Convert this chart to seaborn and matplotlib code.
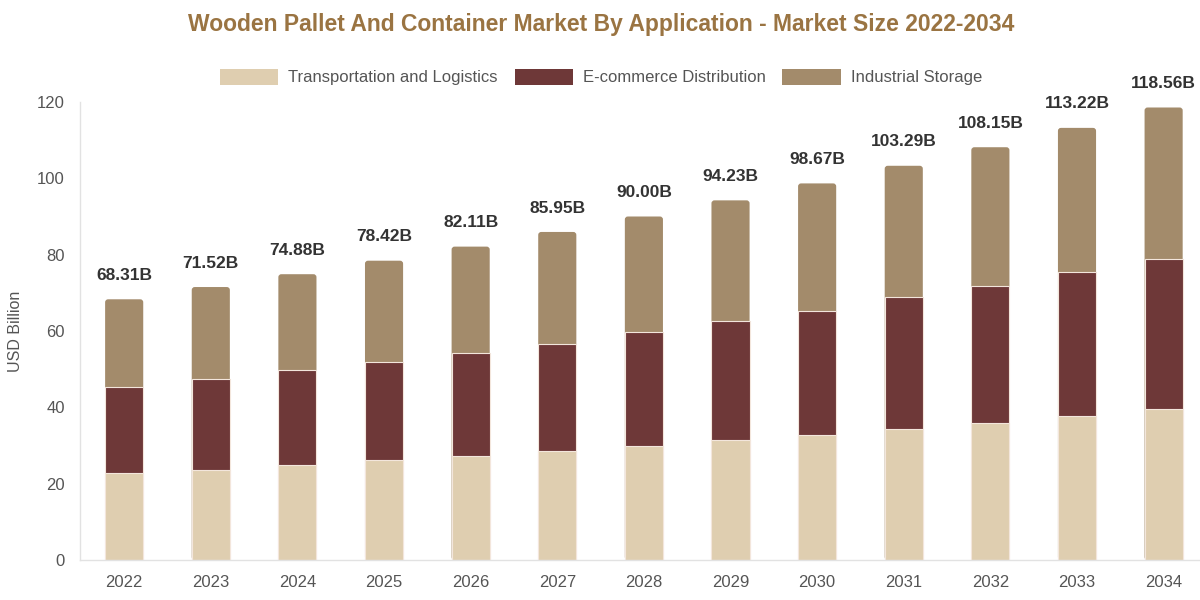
import matplotlib
matplotlib.use("Agg")
import matplotlib.pyplot as plt
import seaborn as sns
import numpy as np
import pandas as pd
from matplotlib.patches import Patch, FancyBboxPatch

years = ["2022", "2023", "2024", "2025", "2026", "2027", "2028", "2029", "2030", "2031", "2032", "2033", "2034"]
transport = [22.7, 23.7, 24.9, 26.2, 27.2, 28.6, 29.9, 31.4, 32.7, 34.3, 36.0, 37.7, 39.5]
ecommerce = [22.7, 23.6, 24.8, 25.6, 27.1, 28.1, 29.9, 31.2, 32.6, 34.5, 35.8, 37.7, 39.4]
totals = [68.31, 71.52, 74.88, 78.42, 82.11, 85.95, 90.00, 94.23, 98.67, 103.29, 108.15, 113.22, 118.56]
industrial = [round(t - a - b, 2) for t, a, b in zip(totals, transport, ecommerce)]
total_labels = ["68.31B", "71.52B", "74.88B", "78.42B", "82.11B", "85.95B", "90.00B", "94.23B",
                "98.67B", "103.29B", "108.15B", "113.22B", "118.56B"]
series_names = ["Transportation and Logistics", "E-commerce Distribution", "Industrial Storage"]
colors = ["#DFCEB0", "#6E3838", "#A38B6B"]

sns.set_theme(style="white")
plt.rcParams["font.family"] = ["Liberation Sans", "DejaVu Sans"]

fig = plt.figure(figsize=(12, 6), dpi=100)
ax = fig.add_axes([80 / 1200, 40 / 600, 1 - 80 / 1200, (560 - 102) / 600])

df = pd.DataFrame({"year": years, "t": transport, "e": ecommerce, "i": industrial})
df["te"] = df["t"] + df["e"]
df["tei"] = df["te"] + df["i"]

w = 0.44
sns.barplot(data=df, x="year", y="tei", color=colors[2], width=w, saturation=1,
            linewidth=0, ax=ax)
n_top = len(ax.patches)
sns.barplot(data=df, x="year", y="te", color=colors[1], width=w, saturation=1,
            edgecolor="#F3E6DC", linewidth=0.8, ax=ax)
sns.barplot(data=df, x="year", y="t", color=colors[0], width=w, saturation=1,
            edgecolor="#F3E6DC", linewidth=0.8, ax=ax)

ax.set_xlim(-0.51, 12.42)
ax.set_ylim(0, 120)

all_patches = list(ax.patches)
top_patches = all_patches[:n_top]
lower_patches = all_patches[n_top:]
for k, p in enumerate(lower_patches):
    p.set_zorder(3 + (k // n_top) * 0.1)

# round the top corners of the top segment
r = 0.035
for p in top_patches:
    x0, y0 = p.get_x(), p.get_y()
    pw, ph = p.get_width(), p.get_height()
    p.set_visible(False)
    fb = FancyBboxPatch((x0, y0), pw, ph, boxstyle=f"round,pad=0,rounding_size={r}",
                        mutation_aspect=22, facecolor=colors[2], edgecolor="none", zorder=2)
    ax.add_patch(fb)

for i, lab in enumerate(total_labels):
    ax.text(i, totals[i] + 4.3, lab, ha="center", va="bottom", fontsize=12.5,
            fontweight="bold", color="#333333")

ax.set_yticks([0, 20, 40, 60, 80, 100, 120])
ax.set_xlabel("")
ax.set_ylabel("USD Billion", fontsize=11.5, color="#555555", labelpad=10)
ax.tick_params(axis="both", length=0, labelsize=12, colors="#555555")
ax.tick_params(axis="y", pad=11)
ax.tick_params(axis="x", pad=11)
for s in ["top", "right"]:
    ax.spines[s].set_visible(False)
for s in ["left", "bottom"]:
    ax.spines[s].set_color("#E2E2E2")
    ax.spines[s].set_linewidth(1)
    ax.spines[s].set_zorder(5)
ax.grid(False)

handles = [Patch(facecolor=c, edgecolor="none") for c in colors]
fig.legend(handles, series_names, loc="center", bbox_to_anchor=(601 / 1200, 1 - 77 / 600),
           ncol=3, frameon=False, fontsize=12, handlelength=3.5, handleheight=1.1,
           handletextpad=0.6, columnspacing=1.0, labelcolor="#555555")

fig.text(601 / 1200, 1 - 25 / 600,
         "Wooden Pallet And Container Market By Application - Market Size 2022-2034",
         ha="center", va="center", fontsize=16.5, fontweight="bold", color="#9A7442",
         family=["Liberation Sans Narrow", "Liberation Sans", "DejaVu Sans"])

fig.savefig("out.png", dpi=100)
